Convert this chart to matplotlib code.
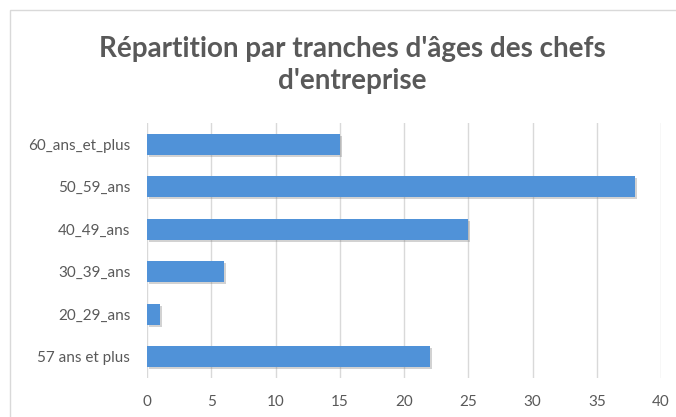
import matplotlib
matplotlib.use("Agg")
import matplotlib.pyplot as plt
from matplotlib import patheffects as pe
from matplotlib.patches import Rectangle

categories = ["60_ans_et_plus", "50_59_ans", "40_49_ans", "30_39_ans", "20_29_ans", "57 ans et plus"]
values = [15, 38, 25, 6, 1, 22]
xticks = [0, 5, 10, 15, 20, 25, 30, 35, 40]
title = "Répartition par tranches d'âges des chefs\nd'entreprise"

plt.rcParams['font.family'] = ['Lato', 'DejaVu Sans']
W, H = 676, 417
fig = plt.figure(figsize=(W/100, H/100), dpi=100)
fig.patch.set_facecolor('white')

# outer chart frame
fig.patches.append(Rectangle((9.5/W, -0.1), 1.2, 1 - 9.5/H + 0.1, transform=fig.transFigure,
                             fill=False, edgecolor='#d9d9d9', linewidth=1.0))

ax = fig.add_axes([147/W, 1 - 378/H, (661-147)/W, (378-123)/H])
ypos = list(range(len(categories)))[::-1]
bars = ax.barh(ypos, values, height=0.5, color='#5092d8', zorder=3)
for b in bars:
    b.set_path_effects([pe.SimplePatchShadow(offset=(1.5, -1.5), shadow_rgbFace='#7f7f7f', alpha=0.35), pe.Normal()])

ax.set_xlim(0, 40)
ax.set_ylim(-0.5, len(categories) - 0.5)
ax.set_xticks(xticks)
ax.set_yticks(ypos)
ax.set_yticklabels(categories)
ax.grid(axis='x', color='#d9d9d9', linewidth=1.0, zorder=0)
ax.set_axisbelow(True)
for s in ax.spines.values():
    s.set_visible(False)
ax.tick_params(axis='both', length=0, colors='#595959', labelsize=11)
ax.tick_params(axis='y', pad=12)
ax.tick_params(axis='x', pad=12)

fig.text(352/W, 1 - 65/H, title, ha='center', va='center', fontsize=20, fontweight='bold',
         color='#595959', linespacing=1.25)

fig.savefig("out.png", dpi=100)
